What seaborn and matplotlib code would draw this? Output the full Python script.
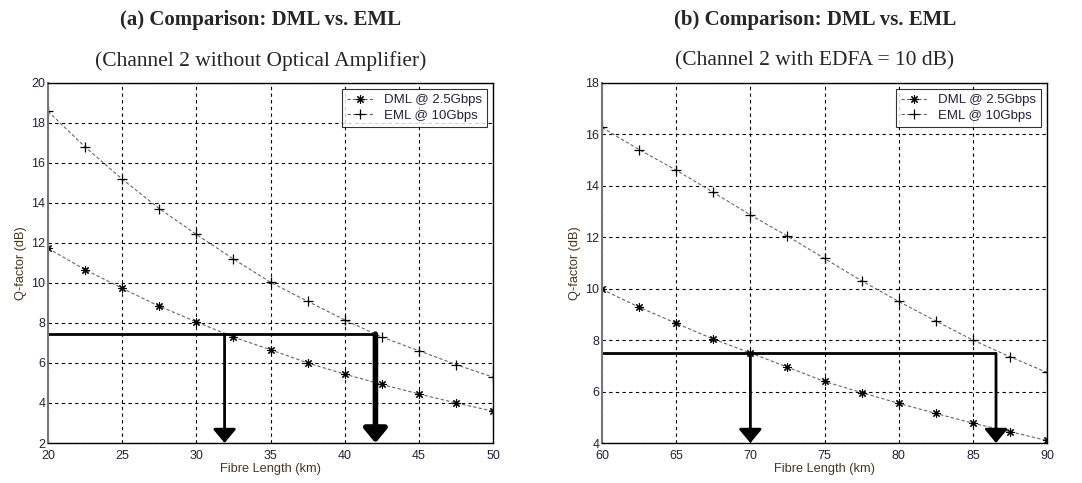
import matplotlib
matplotlib.use("Agg")
import matplotlib.pyplot as plt
import numpy as np
import pandas as pd
import seaborn as sns

sns.set_style("white")
plt.rcParams['font.family'] = ['Liberation Sans', 'DejaVu Sans']

# ---- data ----
len_a = [20, 22.5, 25, 27.5, 30, 32.5, 35, 37.5, 40, 42.5, 45, 47.5, 50]
dml_a = [11.72, 10.66, 9.73, 8.83, 8.05, 7.29, 6.66, 6.0, 5.44, 4.93, 4.45, 4.0, 3.59]
eml_a = [18.57, 16.79, 15.18, 13.71, 12.42, 11.19, 10.03, 9.08, 8.15, 7.29, 6.61, 5.92, 5.29]

len_b = [60, 62.5, 65, 67.5, 70, 72.5, 75, 77.5, 80, 82.5, 85, 87.5, 90]
dml_b = [9.97, 9.28, 8.65, 8.04, 7.5, 6.95, 6.39, 5.96, 5.54, 5.15, 4.77, 4.44, 4.10]
eml_b = [16.26, 15.40, 14.60, 13.74, 12.86, 12.04, 11.17, 10.30, 9.50, 8.74, 8.0, 7.35, 6.74]

q_threshold = [7.44, 7.48]        # Q limit line in each panel
reach_dml = [31.9, 70.0]          # where DML crosses the limit
reach_eml = [42.07, 86.56]        # where EML crosses the limit

x_limits = [(20, 50), (60, 90)]
y_limits = [(2, 20), (4, 18)]
titles = ["(a) Comparison: DML vs. EML", "(b) Comparison: DML vs. EML"]
subtitles = ["(Channel 2 without Optical Amplifier)", "(Channel 2 with EDFA = 10 dB)"]
series_names = ["DML @ 2.5Gbps", "EML @ 10Gbps"]

panels = [
    pd.DataFrame({"length": len_a, "dml": dml_a, "eml": eml_a}),
    pd.DataFrame({"length": len_b, "dml": dml_b, "eml": eml_b}),
]

fig = plt.figure(figsize=(10.82, 4.83), dpi=100)
ax_a = fig.add_axes([0.0444, 0.0828, 0.4113, 0.746])
ax_b = fig.add_axes([0.5564, 0.0828, 0.4113, 0.746])

tick_col = '#22223a'
label_col = '#4a3520'
asterisk = (8, 2, 0)
arrow_widths = [(2, 4), (2, 2)]

for i, (ax, df) in enumerate(zip([ax_a, ax_b], panels)):
    sns.lineplot(data=df, x="length", y="dml", ax=ax, color='#666666', lw=0.8,
                 linestyle=(0, (3, 2)), marker=asterisk, markersize=6,
                 markeredgecolor='k', markerfacecolor='k', markeredgewidth=0.8,
                 label=series_names[0])
    sns.lineplot(data=df, x="length", y="eml", ax=ax, color='#666666', lw=0.8,
                 linestyle=(0, (3, 2)), marker='+', markersize=7.5,
                 markeredgecolor='k', markeredgewidth=0.9,
                 label=series_names[1])

    xmin, xmax = x_limits[i]
    ymin, ymax = y_limits[i]
    ax.set_xlim(xmin, xmax)
    ax.set_ylim(ymin, ymax)
    ax.set_xticks(np.arange(xmin, xmax + 1, 5))
    ax.set_yticks(np.arange(ymin, ymax + 1, 2))
    ax.grid(True, color='k', linestyle=(0, (3, 3)), lw=0.8)
    ax.tick_params(direction='in', length=4, labelsize=9, colors='k',
                   labelcolor=tick_col)
    ax.tick_params(axis='x', pad=5)
    ax.tick_params(axis='y', pad=2)
    for sp in ax.spines.values():
        sp.set_color('k')
        sp.set_linewidth(1.0)
    ax.spines['left'].set_color('#777777')
    ax.spines['left'].set_linewidth(1.5)

    ax.set_xlabel("Fibre Length (km)", fontsize=9.2, color=label_col, labelpad=1)
    ax.set_ylabel("Q-factor (dB)", fontsize=9.2, color=label_col, labelpad=3)

    # threshold line and arrows
    thr = q_threshold[i]
    ax.plot([xmin, reach_eml[i]], [thr, thr], color='k', lw=2, solid_capstyle='butt')
    for xr, w in zip([reach_dml[i], reach_eml[i]], arrow_widths[i]):
        ax.annotate('', xy=(xr, ymin), xytext=(xr, thr),
                    arrowprops=dict(arrowstyle='-|>,head_length=0.6,head_width=0.5',
                                    mutation_scale=14, lw=w, color='k',
                                    shrinkA=0, shrinkB=0),
                    annotation_clip=False)

    leg = ax.legend(loc='upper right', fontsize=9.5, frameon=True, fancybox=False,
                    edgecolor='k', borderpad=0.4, borderaxespad=0.45,
                    handlelength=2.0, handletextpad=0.8, labelspacing=0.25)
    leg.get_frame().set_linewidth(0.8)
    for t in leg.get_texts():
        t.set_color(tick_col)

    pos = ax.get_position()
    cx = pos.x0 + pos.width / 2 - 0.009
    fig.text(cx, 0.958, titles[i], ha='center', va='center', fontsize=15,
             fontweight='bold', family=['Liberation Serif', 'DejaVu Serif'])
    fig.text(cx, 0.874, subtitles[i], ha='center', va='center', fontsize=15.5,
             family=['Liberation Serif', 'DejaVu Serif'])

fig.savefig("out.png", dpi=100)
